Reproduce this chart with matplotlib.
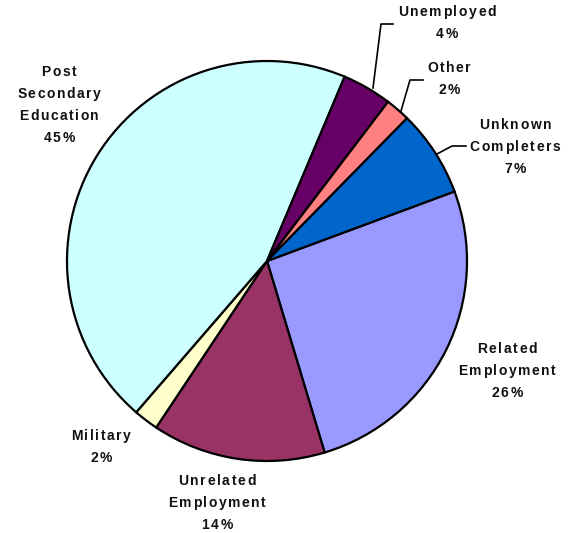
import matplotlib.pyplot as plt
from matplotlib.font_manager import FontProperties
from matplotlib.textpath import TextToPath

# slice data, clockwise from the Related Employment wedge
labels = ['Related\nEmployment', 'Unrelated\nEmployment', 'Military',
          'Post\nSecondary\nEducation', 'Unemployed', 'Other', 'Unknown\nCompleters']
values = [26, 14, 2, 45, 4, 2, 7]
colors = ['#9999FF', '#993366', '#FFFFCC', '#CCFFFF', '#660066', '#FF8080', '#0066CC']

H = 533
fig = plt.figure(figsize=(5.76, 5.33), dpi=100)
ax = fig.add_axes([0, 0, 1, 1])

ax.pie(values, colors=colors, startangle=20.35, counterclock=False,
       center=(267, H - 261), radius=200, frame=True,
       wedgeprops=dict(edgecolor='black', linewidth=1.6))
ax.set_xlim(0, 576)
ax.set_ylim(0, H)
ax.axis('off')

prop = FontProperties(family='Liberation Sans', weight='bold', size=10)
t2p = TextToPath()
track = 1.6  # extra pixels between letters, like the old Excel rendering


def char_w(c):
    w, h, d = t2p.get_text_width_height_descent(c, prop, ismath=False)
    return w * 100 / 72


def spaced_text(s, xc, yc):
    ws = [char_w(c) for c in s]
    total = sum(ws) + track * (len(s) - 1)
    x = xc - total / 2
    for c, w in zip(s, ws):
        ax.text(x, H - yc, c, ha='left', va='center', fontproperties=prop,
                color='#111111')
        x += w + track


# label positions (pixel coords of text block centre)
label_pos = [(507, 371), (217, 503), (101, 447), (59, 105), (447, 23), (449, 79), (515, 147)]
for lab, v, (x, y) in zip(labels, values, label_pos):
    lines = lab.split('\n') + [f'{v}%']
    y0 = y - 22 * (len(lines) - 1) / 2
    for i, ln in enumerate(lines):
        spaced_text(ln, x, y0 + 22 * i)

# leader lines
leaders = [
    [(373, 88), (381, 24), (393, 24)],
    [(401, 111), (410, 80), (423, 80)],
    [(437, 154), (452, 146), (466, 146)],
]
for pts in leaders:
    xs = [p[0] for p in pts]
    ys = [H - p[1] for p in pts]
    ax.plot(xs, ys, color='black', lw=1.2)

fig.savefig('out.png', dpi=100)
